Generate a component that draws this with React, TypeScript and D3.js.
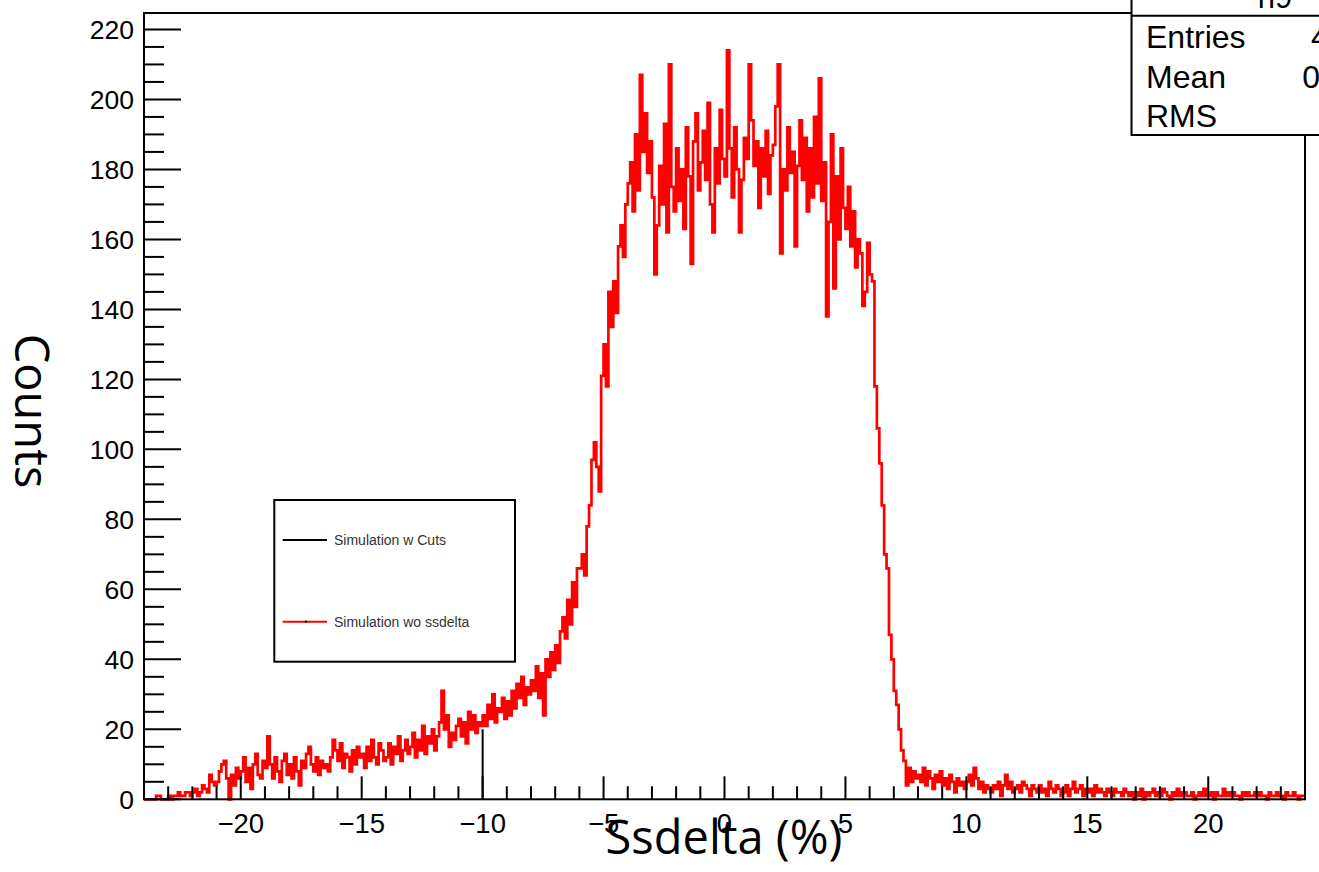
import React from "react";
import * as d3 from "d3";

// Histogram binning: 480 bins of width 0.1 from -24 to 24
const binLow = -24;
const binWidth = 0.1;

// Counts per bin, one row per unit of Ssdelta (row label = lower edge)
const counts: number[] = [
  /* -24 */ 0, 0, 0, 0, 0, 1, 1, 0, 0, 0,
  /* -23 */ 1, 0, 1, 1, 2, 1, 1, 2, 2, 1,
  /* -22 */ 2, 3, 1, 2, 4, 3, 2, 7, 5, 4,
  /* -21 */ 5, 8, 10, 11, 6, 0, 7, 4, 9, 6,
  /* -20 */ 8, 12, 5, 9, 3, 10, 13, 7, 6, 11,
  /* -19 */ 9, 18, 10, 6, 12, 8, 5, 11, 13, 7,
  /* -18 */ 10, 6, 12, 8, 4, 11, 9, 13, 15, 10,
  /* -17 */ 8, 12, 7, 11, 9, 10, 8, 12, 17, 14,
  /* -16 */ 11, 16, 9, 13, 12, 8, 14, 10, 15, 12,
  /* -15 */ 13, 9, 15, 11, 17, 12, 10, 16, 14, 11,
  /* -14 */ 12, 16, 10, 15, 13, 18, 11, 14, 17, 13,
  /* -13 */ 15, 19, 12, 17, 14, 21, 13, 18, 16, 20,
  /* -12 */ 14, 18, 22, 31, 20, 24, 15, 19, 17, 21,
  /* -11 */ 23, 18, 22, 16, 25, 20, 24, 19, 22, 21,
  /* -10 */ 24, 21, 27, 23, 30, 22, 26, 25, 29, 23,
  /*  -9 */ 28, 24, 31, 26, 33, 29, 35, 27, 32, 30,
  /*  -8 */ 34, 31, 38, 29, 36, 24, 40, 35, 42, 37,
  /*  -7 */ 44, 39, 48, 52, 46, 57, 50, 62, 55, 66,
  /*  -6 */ 66, 70, 64, 78, 84, 97, 102, 95, 88, 121,
  /*  -5 */ 130, 118, 145, 135, 148, 139, 158, 164, 155, 170,
  /*  -4 */ 176, 182, 168, 190, 174, 207, 185, 196, 179, 188,
  /*  -3 */ 172, 150, 164, 181, 170, 193, 162, 210, 175, 168,
  /*  -2 */ 186, 171, 180, 163, 192, 178, 153, 188, 196, 174,
  /*  -1 */ 182, 191, 177, 199, 170, 162, 186, 176, 197, 183,
  /*   0 */ 178, 214, 186, 172, 192, 180, 162, 177, 189, 183,
  /*   1 */ 210, 194, 181, 188, 169, 186, 178, 191, 173, 184,
  /*   2 */ 187, 198, 210, 156, 180, 174, 192, 179, 185, 158,
  /*   3 */ 181, 194, 177, 189, 168, 186, 172, 195, 176, 206,
  /*   4 */ 171, 182, 138, 165, 190, 146, 178, 160, 186, 169,
  /*   5 */ 163, 175, 158, 168, 152, 160, 156, 141, 145, 159,
  /*   6 */ 150, 148, 118, 106, 96, 84, 70, 66, 47, 40,
  /*   7 */ 31, 27, 20, 14, 11, 4, 9, 5, 8, 6,
  /*   8 */ 7, 5, 9, 4, 8, 6, 3, 7, 5, 8,
  /*   9 */ 4, 6, 3, 7, 5, 2, 6, 4, 5, 3,
  /*  10 */ 5, 7, 4, 9, 6, 3, 5, 2, 4, 3,
  /*  11 */ 2, 4, 3, 5, 1, 4, 7, 3, 5, 2,
  /*  12 */ 3, 4, 2, 5, 4, 3, 1, 4, 3, 2,
  /*  13 */ 4, 2, 3, 1, 5, 3, 2, 4, 3, 1,
  /*  14 */ 2, 4, 1, 3, 5, 2, 3, 4, 1, 3,
  /*  15 */ 2, 3, 1, 4, 2, 3, 2, 1, 3, 2,
  /*  16 */ 1, 3, 2, 2, 1, 3, 2, 1, 2, 0,
  /*  17 */ 2, 1, 3, 0, 2, 1, 2, 3, 1, 2,
  /*  18 */ 1, 3, 2, 1, 0, 2, 1, 3, 1, 2,
  /*  19 */ 2, 1, 1, 2, 0, 1, 2, 1, 3, 1,
  /*  20 */ 1, 2, 0, 2, 1, 1, 3, 1, 2, 1,
  /*  21 */ 2, 1, 1, 0, 2, 1, 2, 1, 1, 2,
  /*  22 */ 1, 2, 1, 1, 0, 2, 1, 1, 2, 1,
  /*  23 */ 1, 0, 2, 1, 1, 2, 1, 0, 1, 1,
];

// The "Simulation w Cuts" histogram: a single visible bin edge at -10
const cutsSpike = [{ x: -10, count: 20 }];

const xDomain: [number, number] = [-24, 24];
const yDomain: [number, number] = [0, 224.7];
const xMajorTicks = [-20, -15, -10, -5, 0, 5, 10, 15, 20];
const yMajorTicks = [0, 20, 40, 60, 80, 100, 120, 140, 160, 180, 200, 220];
const xTitle = "Ssdelta (%)";
const yTitle = "Counts";
const legendLabels = ["Simulation w Cuts", "Simulation wo ssdelta"];
const legendColors = ["#000000", "#ff0000"];
const statsTitle = "h9";
const statsLabels = ["Entries", "Mean", "RMS"];
const statsValues = ["40392", "0.7364", "4.843"];

const W = 1319;
const H = 872;
const frame = { left: 144, right: 1305, top: 13, bottom: 799.3 };

export default function App() {
  const x = d3.scaleLinear().domain(xDomain).range([frame.left, frame.right]);
  const y = d3.scaleLinear().domain(yDomain).range([frame.bottom, frame.top]);

  const pts: [number, number][] = counts.map((c, i) => [binLow + i * binWidth, c]);
  pts.push([binLow + counts.length * binWidth, counts[counts.length - 1]]);
  const line = d3
    .line<[number, number]>()
    .x((d) => x(d[0]))
    .y((d) => y(d[1]))
    .curve(d3.curveStepAfter);
  const histPath = line(pts) || "";

  const xMinor = d3.range(-23, 24, 1).filter((v) => !xMajorTicks.includes(v));
  const yMinor = d3.range(0, 225, 5).filter((v) => !yMajorTicks.includes(v));

  const fmt = (v: number) => (v < 0 ? "\u2212" + Math.abs(v) : String(v));
  const labelFont = "'Liberation Sans', Arial, Helvetica, sans-serif";
  const titleFont = "'Open Sans', 'DejaVu Sans', sans-serif";

  const leg = { x: 274.3, y: 500, w: 240.7, h: 161.7 };
  const legRows = [540, 621.7];

  return (
    <svg
      width={W}
      height={H}
      style={{ position: "absolute", left: 0, top: 0, display: "block", background: "#fff" }}
    >
      <rect x={0} y={0} width={W} height={H} fill="#fff" />
      {/* red histogram */}
      <path d={histPath} fill="none" stroke="#ff0000" strokeWidth={2.7} />
      {/* black cuts histogram spike */}
      {cutsSpike.map((d, i) => (
        <line
          key={i}
          x1={x(d.x)}
          x2={x(d.x)}
          y1={y(0)}
          y2={y(d.count)}
          stroke="#000"
          strokeWidth={2}
        />
      ))}
      {/* frame */}
      <rect
        x={frame.left}
        y={frame.top}
        width={frame.right - frame.left}
        height={frame.bottom - frame.top}
        fill="none"
        stroke="#000"
        strokeWidth={2}
      />
      {/* x ticks */}
      {xMajorTicks.map((v) => (
        <line key={"xM" + v} x1={x(v)} x2={x(v)} y1={frame.bottom} y2={frame.bottom - 23} stroke="#000" strokeWidth={2} />
      ))}
      {xMinor.map((v) => (
        <line key={"xm" + v} x1={x(v)} x2={x(v)} y1={frame.bottom} y2={frame.bottom - 13} stroke="#000" strokeWidth={2} />
      ))}
      {xMajorTicks.map((v) => (
        <text
          key={"xl" + v}
          x={x(v)}
          y={833}
          textAnchor="middle"
          fontFamily={labelFont}
          fontSize={27.5}
          fill="#000"
        >
          {fmt(v)}
        </text>
      ))}
      {/* y ticks */}
      {yMajorTicks.map((v) => (
        <line key={"yM" + v} x1={frame.left} x2={frame.left + 37} y1={y(v)} y2={y(v)} stroke="#000" strokeWidth={2} />
      ))}
      {yMinor.map((v) => (
        <line key={"ym" + v} x1={frame.left} x2={frame.left + 20} y1={y(v)} y2={y(v)} stroke="#000" strokeWidth={2} />
      ))}
      {yMajorTicks.map((v) => (
        <text
          key={"yl" + v}
          x={134}
          y={y(v) + 9.5}
          textAnchor="end"
          fontFamily={labelFont}
          fontSize={26.5}
          fill="#000"
        >
          {fmt(v)}
        </text>
      ))}
      {/* axis titles */}
      <text x={724} y={854} textAnchor="middle" fontFamily={titleFont} fontSize={47} fill="#000">
        {xTitle}
      </text>
      <text
        transform={`translate(15, 411) rotate(90)`}
        textAnchor="middle"
        fontFamily={titleFont}
        fontSize={47}
        fill="#000"
      >
        {yTitle}
      </text>
      {/* legend */}
      <rect x={leg.x} y={leg.y} width={leg.w} height={leg.h} fill="#fff" stroke="#000" strokeWidth={2} />
      {legendLabels.map((lab, i) => (
        <g key={lab}>
          <line x1={282.7} x2={327} y1={legRows[i]} y2={legRows[i]} stroke={legendColors[i]} strokeWidth={2} />
          {i === 1 && <rect x={305} y={legRows[i] - 1} width={2} height={2} fill="#000" />}
          <text x={334} y={legRows[i] + 5} fontFamily={labelFont} fontSize={14} fill="#333">
            {lab}
          </text>
        </g>
      ))}
      {/* stats box */}
      <rect x={1131.5} y={-10} width={300} height={145} fill="#fff" stroke="#000" strokeWidth={2} />
      <line x1={1131.5} x2={1431.5} y1={15.7} y2={15.7} stroke="#000" strokeWidth={2} />
      <text x={1275} y={8} textAnchor="middle" fontFamily={labelFont} fontSize={31} fill="#000">
        {statsTitle}
      </text>
      {statsLabels.map((lab, i) => (
        <g key={lab}>
          <text x={1146} y={48 + i * 39.5} fontFamily={labelFont} fontSize={32} fill="#000">
            {lab}
          </text>
          <text x={1400} y={48 + i * 39.5} textAnchor="end" fontFamily={labelFont} fontSize={32} fill="#000">
            {statsValues[i]}
          </text>
        </g>
      ))}
    </svg>
  );
}
